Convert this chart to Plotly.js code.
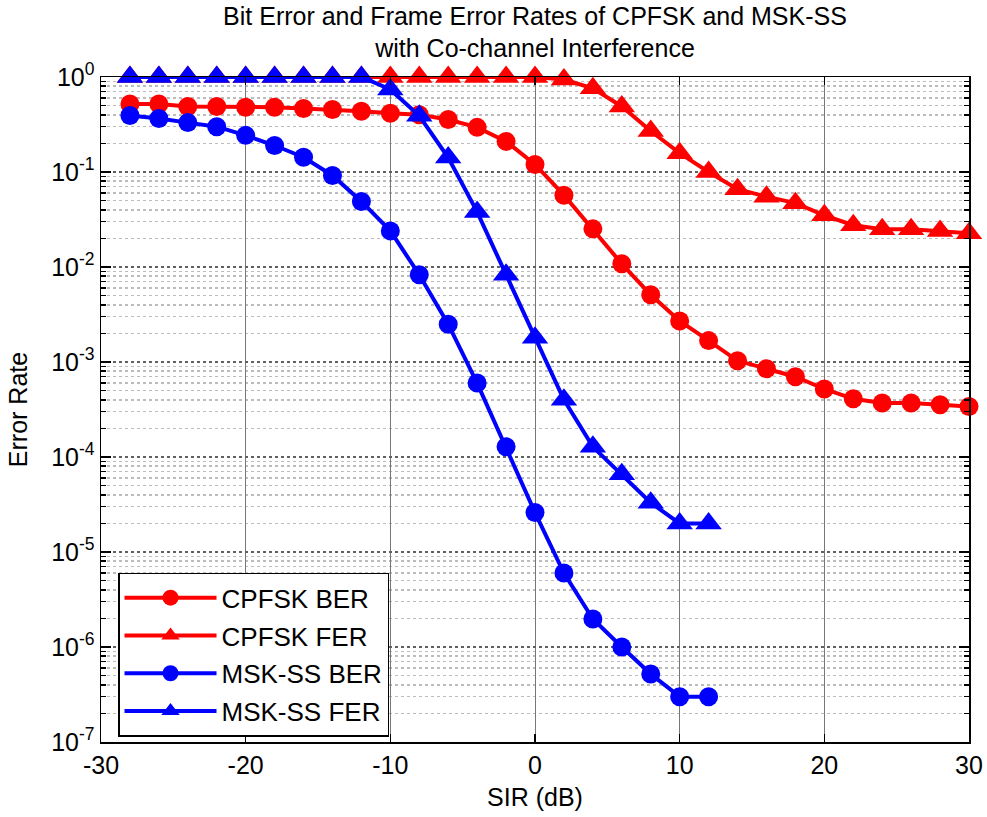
<!DOCTYPE html>
<html>
<head>
<meta charset="utf-8">
<script src="https://cdn.plot.ly/plotly-3.0.1.min.js"></script>
<style>
  html, body { margin: 0; padding: 0; background: #fff; }
  #plot { width: 987px; height: 817px; }
</style>
</head>
<body>
<div id="plot"></div>
<script>
// SIR sweep points (dB)
const sirCpfsk = [-28, -26, -24, -22, -20, -18, -16, -14, -12, -10, -8, -6, -4, -2, 0,
                  2, 4, 6, 8, 10, 12, 14, 16, 18, 20, 22, 24, 26, 28, 30];
const sirMsk = [-28, -26, -24, -22, -20, -18, -16, -14, -12, -10, -8, -6, -4, -2, 0,
                2, 4, 6, 8, 10, 12];

// Error rates
const cpfskBer = [0.52, 0.52, 0.49, 0.49, 0.48, 0.48, 0.465, 0.455, 0.435, 0.415, 0.40, 0.357, 0.295, 0.21, 0.12,
                  0.057, 0.0252, 0.0108, 0.0051, 0.0027, 0.00168, 0.00103, 0.00085, 0.0007, 0.00052, 0.00041,
                  0.00037, 0.00037, 0.000355, 0.00034];
const cpfskFer = [1, 1, 1, 1, 1, 1, 1, 1, 1, 1, 1, 1, 1, 1, 1,
                  0.94, 0.76, 0.49, 0.27, 0.158, 0.1, 0.066, 0.055, 0.047, 0.035, 0.0275,
                  0.025, 0.025, 0.024, 0.0226];
const mskBer = [0.394, 0.366, 0.331, 0.30, 0.243, 0.19, 0.143, 0.092, 0.049, 0.024, 0.0083, 0.0025, 0.0006,
                0.000128, 2.6e-5, 6.0e-6, 1.97e-6, 1.0e-6, 5.2e-7, 3.0e-7, 3.0e-7];
const mskFer = [1, 1, 1, 1, 1, 1, 1, 1, 1, 0.74, 0.39, 0.142, 0.038, 0.0083, 0.0018, 0.0004, 0.000128,
                6.6e-5, 3.3e-5, 2.0e-5, 2.0e-5];

const seriesNames = ['CPFSK BER', 'CPFSK FER', 'MSK-SS BER', 'MSK-SS FER'];

// Axis ticks
const xTicks = [-30, -20, -10, 0, 10, 20, 30];
const yTicks = [1e-7, 1e-6, 1e-5, 1e-4, 1e-3, 1e-2, 1e-1, 1];
const yTickText = ['10<sup>-7</sup>', '10<sup>-6</sup>', '10<sup>-5</sup>', '10<sup>-4</sup>',
                   '10<sup>-3</sup>', '10<sup>-2</sup>', '10<sup>-1</sup>', '10<sup>0</sup>'];

const FONT = 'Liberation Sans, Arial, Helvetica, sans-serif';
const TEXT = 25;

function trace(x, y, name, color, symbol, size) {
  return {
    x: x, y: y, name: name, legendgroup: name,
    type: 'scatter', mode: 'lines+markers',
    line: {color: color, width: 4},
    marker: {color: color, symbol: symbol, size: size, line: {width: 0}},
    cliponaxis: false
  };
}

const data = [
  trace(sirCpfsk, cpfskBer, seriesNames[0], '#ff0000', 'circle', 19),
  trace(sirCpfsk, cpfskFer, seriesNames[1], '#ff0000', 'triangle-up', 23),
  trace(sirMsk, mskBer, seriesNames[2], '#0000ff', 'circle', 19),
  trace(sirMsk, mskFer, seriesNames[3], '#0000ff', 'triangle-up', 23)
];

const layout = {
  width: 987, height: 817,
  paper_bgcolor: '#ffffff', plot_bgcolor: '#ffffff',
  margin: {l: 101, r: 18, t: 76.5, b: 74.5},
  font: {family: FONT, size: TEXT, color: '#000'},
  title: {
    text: 'Bit Error and Frame Error Rates of CPFSK and MSK-SS<br>with Co-channel Interference',
    font: {family: FONT, size: 25, color: '#000'},
    x: 0.5, xref: 'paper', xanchor: 'center',
    y: 0.97, yref: 'container', yanchor: 'top'
  },
  showlegend: true,
  legend: {
    x: 0.0196, y: 0.2545, xanchor: 'left', yanchor: 'top',
    bgcolor: '#ffffff', bordercolor: '#000', borderwidth: 1.5,
    font: {family: FONT, size: 26, color: '#000'},
    itemwidth: 92, tracegroupgap: 1
  },
  xaxis: {
    range: [-30, 30], tickvals: xTicks, ticktext: xTicks.map(String),
    showline: true, linecolor: '#000', linewidth: 1.5, mirror: 'ticks',
    ticks: 'inside', ticklen: 8, tickcolor: '#000', tickwidth: 1.5,
    showgrid: true, gridcolor: '#777', gridwidth: 1,
    zeroline: false,
    title: {text: 'SIR (dB)', font: {family: FONT, size: TEXT, color: '#000'}, standoff: 11},
    tickfont: {family: FONT, size: TEXT, color: '#000'}
  },
  yaxis: {
    type: 'log', range: [-7, 0], tickvals: yTicks, ticktext: yTickText,
    showline: true, linecolor: '#000', linewidth: 1.5, mirror: 'ticks',
    ticks: 'inside', ticklen: 10, tickcolor: '#000', tickwidth: 1.5,
    showgrid: true, gridcolor: '#606060', gridwidth: 1.5, griddash: 'dot',
    zeroline: false,
    minor: {
      dtick: 'D1', ticks: 'inside', ticklen: 5, tickcolor: '#000', tickwidth: 1.5,
      showgrid: true, gridcolor: '#bcbcbc', gridwidth: 1.5, griddash: 'dot'
    },
    title: {text: 'Error Rate', font: {family: FONT, size: TEXT, color: '#000'}, standoff: 16},
    tickfont: {family: FONT, size: TEXT, color: '#000'}
  }
};

Plotly.newPlot('plot', data, layout, {displayModeBar: false, staticPlot: true});
</script>
</body>
</html>
